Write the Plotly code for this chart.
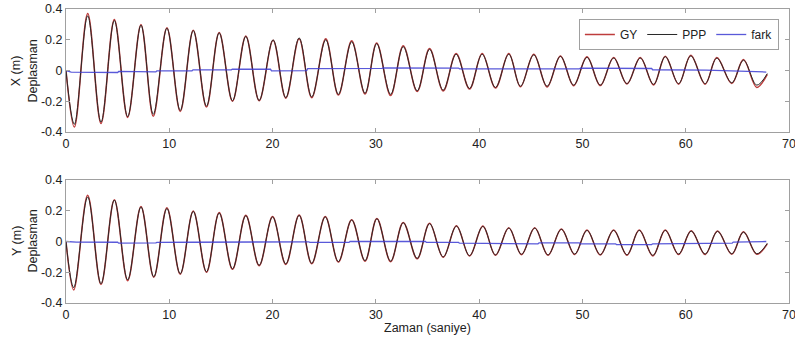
import plotly.graph_objects as go
from plotly.subplots import make_subplots

# ---------------- data ----------------
# times (s) of start, alternating troughs/peaks, and end  -- X panel
t_x = [0, 0.81, 2.10, 3.39, 4.68, 5.97, 7.26, 8.45, 9.77, 11.06, 12.32, 13.60, 14.83,
       16.12, 17.41, 18.70, 20.05, 21.28, 22.57, 23.79, 25.15, 26.37, 27.66, 28.95,
       30.08, 31.43, 32.65, 34.00, 35.20, 36.52, 37.77, 39.07, 40.29, 41.58, 42.87,
       44.00, 45.29, 46.58, 47.87, 49.15, 50.44, 51.73, 53.02, 54.31, 55.60, 56.89,
       58.02, 59.31, 60.49, 61.88, 63.01, 64.46, 65.59, 66.88, 67.90]
x_ppp = [0, -0.350, 0.355, -0.335, 0.325, -0.300, 0.295, -0.285, 0.275, -0.260, 0.260,
         -0.232, 0.245, -0.197, 0.222, -0.195, 0.199, -0.177, 0.212, -0.172, 0.200,
         -0.155, 0.187, -0.148, 0.175, -0.155, 0.155, -0.132, 0.138, -0.128, 0.106,
         -0.117, 0.106, -0.110, 0.106, -0.102, 0.102, -0.102, 0.092, -0.095, 0.085,
         -0.095, 0.081, -0.085, 0.081, -0.090, 0.090, -0.085, 0.095, -0.085, 0.080,
         -0.080, 0.067, -0.095, -0.020]
x_gy = [0, -0.368, 0.370, -0.345, 0.332, -0.305, 0.300, -0.298, 0.278, -0.266, 0.262,
        -0.238, 0.247, -0.200, 0.225, -0.197, 0.196, -0.180, 0.207, -0.177, 0.207,
        -0.160, 0.193, -0.153, 0.179, -0.163, 0.161, -0.137, 0.143, -0.133, 0.110,
        -0.120, 0.110, -0.114, 0.110, -0.106, 0.106, -0.107, 0.095, -0.099, 0.089,
        -0.098, 0.084, -0.088, 0.084, -0.094, 0.093, -0.089, 0.099, -0.089, 0.084,
        -0.084, 0.071, -0.110, -0.025]
t_fark_x = [0, 0.5, 5.0, 5.1, 8.7, 8.8, 12.2, 12.3, 16.0, 16.1, 19.8, 19.9, 23.3, 23.4,
            30.6, 30.7, 38.0, 38.1, 49.7, 49.8, 56.7, 56.8, 62.0, 67.8]
fark_x = [0.0, -0.010, -0.013, -0.006, -0.009, -0.002, -0.002, 0.004, 0.004, 0.008,
          0.008, -0.002, -0.001, 0.012, 0.014, 0.017, 0.016, 0.011, 0.010, 0.015,
          0.013, 0.005, 0.002, -0.010]

# Y panel
t_y = [0, 0.75, 2.10, 3.39, 4.68, 5.97, 7.26, 8.50, 9.77, 11.06, 12.32, 13.60, 14.83,
       16.12, 17.41, 18.70, 20.00, 21.28, 22.57, 23.79, 25.10, 26.37, 27.66, 28.95,
       30.10, 31.43, 32.65, 34.00, 35.20, 36.52, 37.80, 39.07, 40.36, 41.58, 42.87,
       44.10, 45.38, 46.67, 47.96, 49.25, 50.44, 51.73, 53.02, 54.31, 55.50, 56.82,
       58.02, 59.31, 60.53, 61.88, 63.08, 64.46, 65.59, 66.88, 67.90]
y_ppp = [0, -0.300, 0.290, -0.275, 0.270, -0.250, 0.225, -0.230, 0.215, -0.210, 0.196,
         -0.197, 0.185, -0.178, 0.168, -0.155, 0.160, -0.146, 0.170, -0.142, 0.160,
         -0.131, 0.140, -0.125, 0.148, -0.128, 0.122, -0.110, 0.116, -0.100, 0.100,
         -0.092, 0.098, -0.087, 0.087, -0.083, 0.087, -0.087, 0.079, -0.082, 0.072,
         -0.085, 0.072, -0.086, 0.072, -0.090, 0.072, -0.082, 0.068, -0.082, 0.066,
         -0.080, 0.061, -0.080, -0.012]
y_gy = [0, -0.315, 0.300, -0.280, 0.272, -0.255, 0.228, -0.233, 0.220, -0.213, 0.198,
        -0.200, 0.188, -0.181, 0.170, -0.158, 0.162, -0.149, 0.172, -0.145, 0.162,
        -0.134, 0.142, -0.128, 0.150, -0.131, 0.124, -0.113, 0.118, -0.103, 0.102,
        -0.095, 0.100, -0.090, 0.089, -0.086, 0.089, -0.090, 0.081, -0.085, 0.074,
        -0.088, 0.074, -0.089, 0.074, -0.094, 0.074, -0.085, 0.070, -0.085, 0.068,
        -0.083, 0.063, -0.083, -0.015]
t_fark_y = [0, 1.0, 5.0, 5.1, 8.7, 8.8, 12.2, 16.0, 23.5, 23.6, 27.4, 27.5, 34.8, 34.9,
            38.0, 38.1, 41.9, 42.0, 45.7, 45.8, 49.7, 49.8, 53.2, 53.3, 56.7, 56.8,
            60.6, 60.7, 64.5, 64.6, 67.8]
fark_y = [0, -0.004, -0.005, -0.011, -0.009, -0.006, -0.005, -0.003, -0.002, -0.006,
          -0.006, 0.0, 0.0, -0.006, -0.006, -0.011, -0.011, -0.015, -0.015, -0.009,
          -0.009, -0.015, -0.015, -0.020, -0.020, -0.015, -0.015, -0.011, -0.011,
          -0.004, 0.0]

x_ticks = [0, 10, 20, 30, 40, 50, 60, 70]
y_ticks = [-0.4, -0.2, 0, 0.2, 0.4]
y_ticklabels = ["-0.4", "-0.2", "0", "0.2", "0.4"]

# ---------------- figure ----------------
RED = "rgb(190,60,60)"
BLACK = "rgb(40,40,40)"
BLUE = "rgba(60,60,210,0.85)"
FONT = "Liberation Sans, Arial, sans-serif"
FS = 12.5

fig = make_subplots(rows=2, cols=1, vertical_spacing=0.1632)

panels = [(1, t_x, x_gy, x_ppp, t_fark_x, fark_x), (2, t_y, y_gy, y_ppp, t_fark_y, fark_y)]
for row, tt, gy, ppp, tf, fk in panels:
    show = row == 1
    fig.add_trace(go.Scatter(x=tt, y=gy, mode="lines", name="GY", showlegend=show,
                             line=dict(color=RED, width=1.5, shape="spline")), row=row, col=1)
    fig.add_trace(go.Scatter(x=tt, y=ppp, mode="lines", name="PPP", showlegend=show,
                             line=dict(color=BLACK, width=1.0, shape="spline")), row=row, col=1)
    fig.add_trace(go.Scatter(x=tf, y=fk, mode="lines", name="fark", showlegend=show,
                             line=dict(color=BLUE, width=1.3)), row=row, col=1)

axis_common = dict(showline=True, linecolor="#a0a0a0", linewidth=1, mirror="ticks",
                   ticks="inside", ticklen=4, tickcolor="#a0a0a0", showgrid=False,
                   zeroline=False, automargin=False, ticklabeloverflow="allow",
                   tickfont=dict(family=FONT, size=FS, color="#222"))
for r in (1, 2):
    fig.update_xaxes(range=[0, 70], tickvals=x_ticks, **axis_common, row=r, col=1)
    fig.update_yaxes(range=[-0.4, 0.4], tickvals=y_ticks, ticktext=y_ticklabels,
                     **axis_common, row=r, col=1)

fig.update_layout(
    width=795, height=339,
    margin=dict(l=66, r=6, t=9, b=36, autoexpand=False),
    plot_bgcolor="white", paper_bgcolor="white",
    font=dict(family=FONT, size=FS, color="#222"),
    legend=dict(orientation="h", x=0.986, xanchor="right", y=0.966, yanchor="top",
                bgcolor="white", bordercolor="#a0a0a0", borderwidth=1,
                font=dict(size=12), itemwidth=30),
    annotations=[
        dict(text="X (m)<br>Deplasman", x=0, xshift=-41.5, y=0.789, xref="paper", yref="paper",
             textangle=-90, showarrow=False, xanchor="center", yanchor="middle",
             font=dict(size=FS, family=FONT, color="#222")),
        dict(text="Y (m)<br>Deplasman", x=0, xshift=-41.5, y=0.211, xref="paper", yref="paper",
             textangle=-90, showarrow=False, xanchor="center", yanchor="middle",
             font=dict(size=FS, family=FONT, color="#222")),
        dict(text="Zaman (saniye)", x=0.5, y=-0.085, xref="paper", yref="paper",
             showarrow=False, xanchor="center", yanchor="middle",
             font=dict(size=FS, family=FONT, color="#222")),
    ],
)

# remove the browser's default 8px page margin so the figure fills the window
fig.write_html("out.html", config={"displayModeBar": False},
               post_script="document.body.style.margin='0';document.body.style.overflow='hidden';")
